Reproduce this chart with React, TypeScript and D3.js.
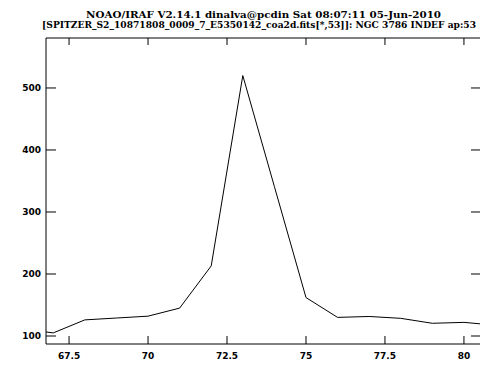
import React from "react";
import * as d3 from "d3";

const titleLine1 = "NOAO/IRAF V2.14.1 dinalva@pcdin Sat 08:07:11 05-Jun-2010";
const titleLine2 = "[SPITZER_S2_10871808_0009_7_E5350142_coa2d.fits[*,53]]: NGC 3786 INDEF ap:53";

const wavelengths = [66.77, 67, 68, 69, 70, 71, 72, 73, 74, 75, 76, 77, 78, 79, 80, 80.54];
const fluxes = [106.5, 105, 126, 129, 132, 145, 213, 520, 341, 162, 130, 131.5, 128.5, 120.5, 122, 119.5];

const xTicks = [67.5, 70, 72.5, 75, 77.5, 80];
const xTickLabels = ["67.5", "70", "72.5", "75", "77.5", "80"];
const yTicks = [100, 200, 300, 400, 500];
const yTickLabels = ["100", "200", "300", "400", "500"];

const W = 480;
const H = 367;
const left = 46;
const right = 481;
const top = 38;
const bottom = 344;

export default function App() {
  const x = d3.scaleLinear().domain([66.77, 80.54]).range([left, right]);
  const y = d3.scaleLinear().domain([87.1, 580.6]).range([bottom, top]);
  const pts = wavelengths.map((w, i) => [w, fluxes[i]] as [number, number]);
  const line = d3
    .line<[number, number]>()
    .x((d) => x(d[0]))
    .y((d) => y(d[1]));
  const titleFont = "'DejaVu Serif', serif";
  const tickFont = "'DejaVu Sans', sans-serif";
  return (
    <svg
      width={W}
      height={H}
      style={{ position: "absolute", left: 0, top: 0, background: "#fff" }}
    >
      <rect x={0} y={0} width={W} height={H} fill="#fff" />
      <text
        x={86}
        y={18}
        fontFamily={titleFont}
        fontWeight="bold"
        fontSize={9.5}
        textLength={355}
        lengthAdjust="spacingAndGlyphs"
      >
        {titleLine1}
      </text>
      <text
        x={42}
        y={27.5}
        fontFamily={titleFont}
        fontWeight="bold"
        fontSize={8.6}
        textLength={434}
        lengthAdjust="spacingAndGlyphs"
      >
        {titleLine2}
      </text>
      <path
        d={`M${left},${top}H${right}V${bottom}H${left}Z`}
        fill="none"
        stroke="#000"
        strokeWidth={1}
      />
      {xTicks.map((t, i) => (
        <g key={"x" + i}>
          <line x1={x(t)} x2={x(t)} y1={bottom} y2={bottom - 8} stroke="#000" strokeWidth={1} />
          <line x1={x(t)} x2={x(t)} y1={top} y2={top + 7} stroke="#000" strokeWidth={1} />
          <text
            x={x(t)}
            y={359}
            textAnchor="middle"
            fontFamily={tickFont}
            fontWeight="bold"
            fontSize={9}
          >
            {xTickLabels[i]}
          </text>
        </g>
      ))}
      {yTicks.map((t, i) => (
        <g key={"y" + i}>
          <line x1={left} x2={left + 10} y1={y(t)} y2={y(t)} stroke="#000" strokeWidth={1} />
          <line x1={right - 10} x2={right} y1={y(t)} y2={y(t)} stroke="#000" strokeWidth={1} />
          <text
            x={41}
            y={y(t) + 3}
            textAnchor="end"
            fontFamily={tickFont}
            fontWeight="bold"
            fontSize={9}
          >
            {yTickLabels[i]}
          </text>
        </g>
      ))}
      <path d={line(pts) || ""} fill="none" stroke="#000" strokeWidth={1} />
    </svg>
  );
}
